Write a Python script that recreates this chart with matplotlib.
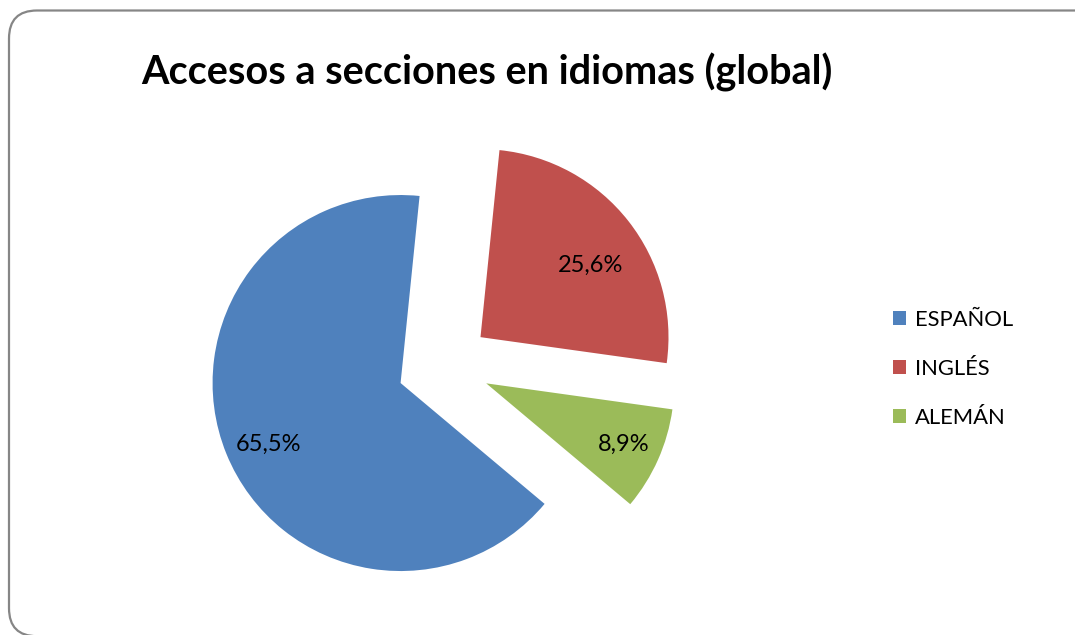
import numpy as np
import matplotlib.pyplot as plt
from matplotlib.patches import FancyBboxPatch

# datos del grafico
idiomas = ['ESPAÑOL', 'INGLÉS', 'ALEMÁN']
porcentajes = [65.5, 25.6, 8.9]
colores = ['#4F81BD', '#C0504D', '#9BBB59']
titulo = 'Accesos a secciones en idiomas (global)'

plt.rcParams['font.family'] = ['Lato', 'DejaVu Sans']

fig = plt.figure(figsize=(10.75, 6.35), dpi=100)

# marco redondeado
marco = FancyBboxPatch((0.09, -0.012), 11.2, 6.257,
                       boxstyle='round,pad=0,rounding_size=0.28',
                       transform=fig.dpi_scale_trans, facecolor='none',
                       edgecolor='#868686', linewidth=1.6, zorder=-1)
fig.patches.append(marco)

ax = fig.add_axes([0.1691, 0.0107, 0.4897, 0.829])
wedges, textos, pcts = ax.pie(porcentajes, colors=colores, startangle=-40,
                              counterclock=False, explode=[0.255, 0.24, 0.24],
                              autopct=lambda p: ('%.1f%%' % p).replace('.', ','),
                              pctdistance=0.76, textprops={'fontsize': 17})

# etiquetas colocadas como en excel: distancia y giro propio de cada porcion
dist = [0.775, 0.70, 0.80]
giro = [3, -5, 0]
for w, t, d, g in zip(wedges, pcts, dist, giro):
    ang = np.deg2rad((w.theta1 + w.theta2) / 2 + g)
    cx, cy = w.center
    t.set_position((cx + d * w.r * np.cos(ang), cy + d * w.r * np.sin(ang)))

ax.set_xlim(-1.4, 1.4)
ax.set_ylim(-1.4, 1.4)
ax.set_aspect('equal')
ax.axis('off')

fig.text(0.453, 1 - 84 / 635, titulo, ha='center', va='baseline',
         fontsize=28.5, fontweight='bold')

fig.legend(wedges, idiomas, loc='center left', bbox_to_anchor=(893 / 1075, 1 - 369 / 635),
           frameon=False, fontsize=15.8, borderpad=0, borderaxespad=0,
           handlelength=0.6, handleheight=0.6, handletextpad=0.42,
           labelspacing=1.32)

fig.savefig('out.png', dpi=100)
